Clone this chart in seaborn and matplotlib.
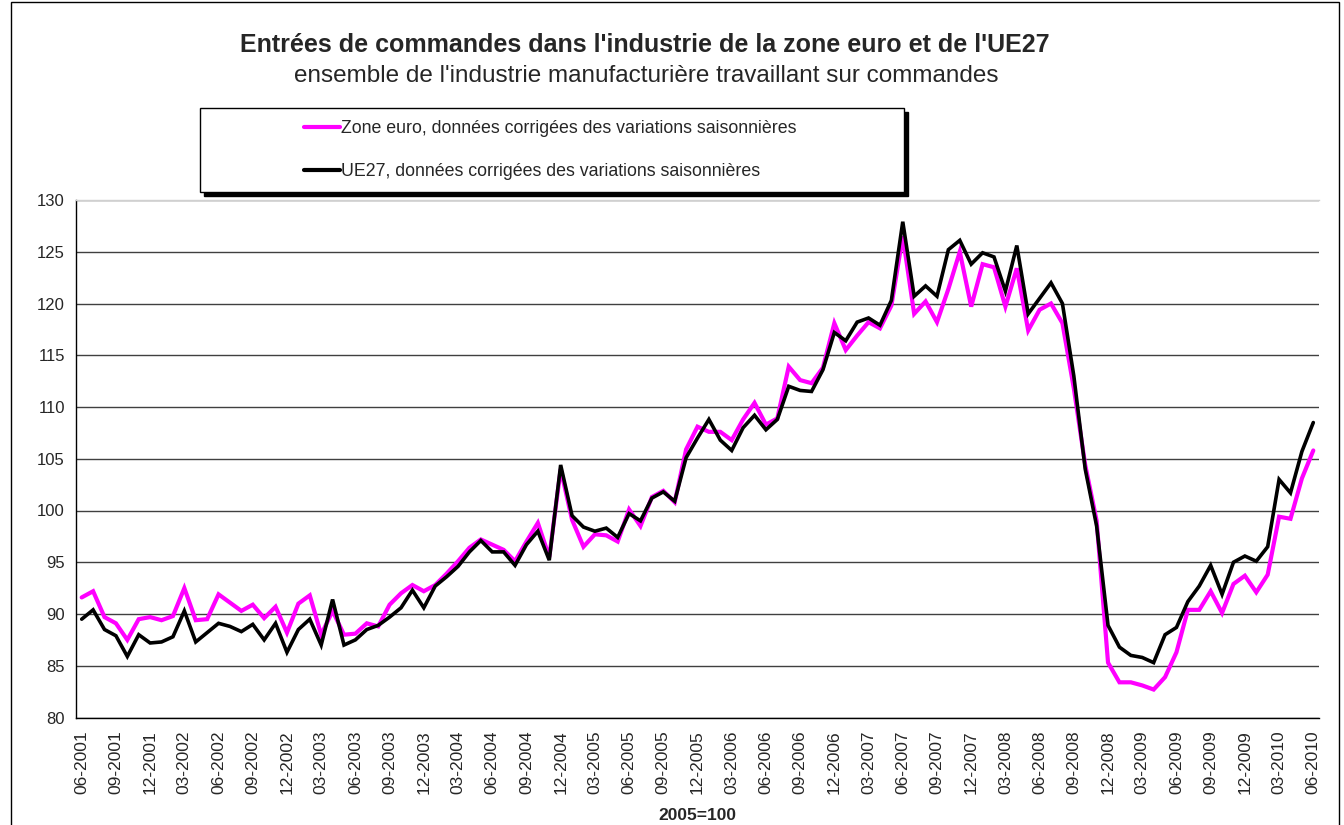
import pandas as pd
import matplotlib.pyplot as plt
import seaborn as sns
from matplotlib.patches import Rectangle

# ===== Data (2005=100), monthly 06-2001 .. 06-2010 =====
months = pd.date_range("2001-06-01", periods=109, freq="MS").strftime("%m-%Y").tolist()

zone_euro = [
    91.6, 92.2, 89.7, 89.1, 87.5, 89.5, 89.7, 89.4, 89.8, 92.5,
    89.4, 89.5, 91.9, 91.1, 90.3, 90.9, 89.6, 90.7, 88.2, 91.0,
    91.8, 88.0, 90.3, 88.0, 88.1, 89.1, 88.8, 90.9, 92.0, 92.8,
    92.2, 92.8, 93.9, 95.1, 96.4, 97.2, 96.7, 96.2, 95.1, 97.0,
    98.8, 95.5, 104.0, 99.1, 96.5, 97.7, 97.6, 97.0, 100.1, 98.5,
    101.3, 101.9, 100.8, 105.9, 108.1, 107.6, 107.6, 106.8, 108.8, 110.4,
    108.3, 108.9, 113.9, 112.6, 112.3, 113.8, 118.1, 115.5, 116.9, 118.2,
    117.6, 119.8, 126.5, 119.0, 120.2, 118.2, 121.4, 125.0, 119.7, 123.8,
    123.5, 119.7, 123.4, 117.4, 119.4, 120.0, 118.1, 111.8, 104.4, 99.0,
    85.3, 83.4, 83.4, 83.1, 82.7, 83.9, 86.3, 90.4, 90.4, 92.2,
    90.1, 92.9, 93.7, 92.1, 93.8, 99.4, 99.2, 103.1, 105.8,
]

ue27 = [
    89.5, 90.4, 88.5, 87.9, 85.9, 88.0, 87.2, 87.3, 87.8, 90.3,
    87.3, 88.2, 89.1, 88.8, 88.3, 89.0, 87.5, 89.1, 86.3, 88.5,
    89.5, 87.0, 91.4, 87.0, 87.5, 88.5, 88.9, 89.7, 90.6, 92.3,
    90.6, 92.7, 93.6, 94.6, 96.0, 97.1, 96.0, 96.0, 94.7, 96.7,
    98.0, 95.2, 104.4, 99.5, 98.4, 98.0, 98.3, 97.4, 99.7, 99.0,
    101.2, 101.8, 100.9, 105.1, 107.0, 108.8, 106.8, 105.8, 108.0, 109.2,
    107.8, 108.8, 112.0, 111.6, 111.5, 113.6, 117.2, 116.4, 118.2, 118.6,
    117.9, 120.3, 127.9, 120.7, 121.7, 120.7, 125.2, 126.1, 123.8, 124.9,
    124.5, 121.2, 125.6, 119.0, 120.5, 122.0, 120.0, 113.0, 104.0, 98.5,
    88.9, 86.8, 86.0, 85.8, 85.3, 88.0, 88.7, 91.2, 92.7, 94.7,
    91.9, 95.0, 95.6, 95.1, 96.5, 103.0, 101.7, 105.7, 108.5,
]

label_ze = "Zone euro, données corrigées des variations saisonnières"
label_ue = "UE27, données corrigées des variations saisonnières"

df = pd.DataFrame({
    "pos": list(range(len(months))) * 2,
    "value": zone_euro + ue27,
    "serie": [label_ze] * len(months) + [label_ue] * len(months),
})

# ===== Figure =====
sns.set_style("white")
plt.rcParams["font.family"] = ["Liberation Sans", "DejaVu Sans"]

W, H = 1344, 825
fig = plt.figure(figsize=(W / 100, H / 100), dpi=100)
ax = fig.add_axes([76 / W, 1 - 717.5 / H, (1319 - 76) / W, (717.5 - 200) / H])

sns.lineplot(data=df, x="pos", y="value", hue="serie", hue_order=[label_ze, label_ue],
             palette={label_ze: "#FF00FF", label_ue: "black"}, linewidth=2.6, ax=ax)
for line, lw in zip(ax.get_lines(), [3.0, 2.6]):
    line.set_linewidth(lw)
    line.set_solid_joinstyle("miter")

# axes
ax.set_ylim(80, 130)
ax.set_yticks(range(80, 131, 5))
ax.set_xlim(-0.5, len(months) - 0.5)
ax.set_xticks(range(0, len(months), 3))
ax.set_xticklabels(months[::3], rotation=90, fontsize=12.5)
ax.set_xticks([k - 0.5 for k in range(0, len(months), 3)], minor=True)
ax.tick_params(axis="x", which="major", length=0, pad=9)
ax.tick_params(axis="x", which="minor", length=5, width=1, color="black", direction="out")
ax.tick_params(axis="y", length=5, width=1, color="black", direction="out", labelsize=12, pad=3)
ax.grid(axis="y", color="#404040", linewidth=1)
ax.set_axisbelow(True)
ax.set_xlabel("2005=100", fontsize=12.5, fontweight="bold", labelpad=10)
ax.set_ylabel("")
for s in ["left", "bottom"]:
    ax.spines[s].set_color("black")
    ax.spines[s].set_linewidth(1)
ax.spines["right"].set_visible(False)
ax.spines["top"].set_color("#d0d0d0")
ax.spines["top"].set_linewidth(1)

# titles
fig.text(0.48, 1 - 45 / H, "Entrées de commandes dans l'industrie de la zone euro et de l'UE27",
         ha="center", va="center", fontsize=18, fontweight="bold")
fig.text(0.481, 1 - 76 / H, "ensemble de l'industrie manufacturière travaillant sur commandes",
         ha="center", va="center", fontsize=17.5)

# legend box with shadow
fig.patches.append(Rectangle((204 / W, 1 - 196 / H), 704 / W, 84 / H, transform=fig.transFigure,
                             facecolor="black", edgecolor="black", zorder=5))
fig.patches.append(Rectangle((200 / W, 1 - 192 / H), 704 / W, 84 / H, transform=fig.transFigure,
                             facecolor="white", edgecolor="black", linewidth=1, zorder=6))
handles, labels = ax.get_legend_handles_labels()
ax.legend_.remove() if ax.legend_ else None
leg = fig.legend(handles, labels, loc="upper left", bbox_to_anchor=(304 / W, 1 - 120 / H),
                 frameon=False, fontsize=12.8, handlelength=2.0, handletextpad=0.1,
                 labelspacing=1.45, borderpad=0, borderaxespad=0)
leg.set_zorder(7)
for h in leg.get_lines():
    h.set_linewidth(3)

# outer frame
fig.patches.append(Rectangle((11 / W, -0.01), 1328 / W, 1 - 2 / H + 0.01, transform=fig.transFigure,
                             fill=False, edgecolor="black", linewidth=1, zorder=1))

plt.savefig("out.png", dpi=100)
